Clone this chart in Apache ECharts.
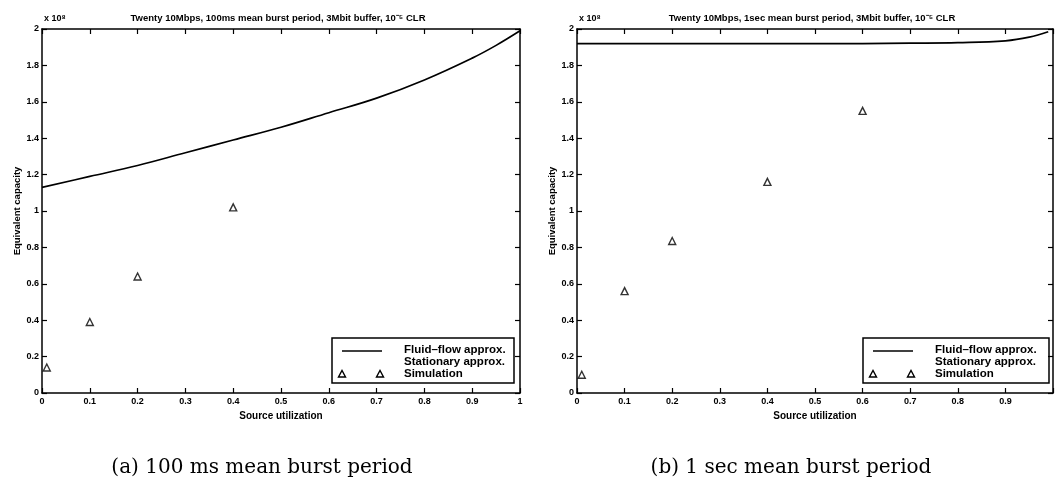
<!DOCTYPE html>
<html>
<head>
<meta charset="utf-8">
<script src="https://cdn.jsdelivr.net/npm/echarts@6/dist/echarts.min.js"></script>
<style>
  html, body { margin: 0; padding: 0; background: #fff; }
  #chart { width: 1059px; height: 493px; }
</style>
</head>
<body>
<div id="chart"></div>
<script>
// Source utilization sample points for the fluid-flow curves
const utilA = [0, 0.1, 0.2, 0.3, 0.4, 0.5, 0.6, 0.7, 0.8, 0.9, 0.95, 1.0];
const fluidA = [1.13, 1.19, 1.25, 1.32, 1.39, 1.46, 1.54, 1.62, 1.72, 1.84, 1.91, 1.99];
const utilB = [0, 0.1, 0.2, 0.3, 0.4, 0.5, 0.6, 0.7, 0.8, 0.9, 0.95, 0.99];
const fluidB = [1.92, 1.92, 1.92, 1.92, 1.92, 1.92, 1.92, 1.922, 1.925, 1.935, 1.955, 1.985];

// Simulation results
const simUtilA = [0.01, 0.1, 0.2, 0.4];
const simA = [0.14, 0.39, 0.64, 1.02];
const simUtilB = [0.01, 0.1, 0.2, 0.4, 0.6];
const simB = [0.10, 0.56, 0.835, 1.16, 1.55];

const titles = [
  'Twenty 10Mbps, 100ms mean burst period, 3Mbit buffer, 10\u207B\u2075 CLR',
  'Twenty 10Mbps, 1sec mean burst period, 3Mbit buffer, 10\u207B\u2075 CLR'
];
const captions = ['(a) 100 ms mean burst period', '(b) 1 sec mean burst period'];
const legendNames = ['Fluid\u2013flow approx.', 'Stationary approx.', 'Simulation'];

const FONT = '"Liberation Sans", Arial, sans-serif';
const SERIF = '"DejaVu Serif", "Liberation Serif", serif';
const grids = [
  { left: 42, top: 29, width: 478, height: 364 },
  { left: 577, top: 29, width: 476, height: 364 }
];
const captionCenters = [257, 786];

function fmt(v) {
  if (v === 0) return '0';
  if (Math.abs(v - Math.round(v)) < 1e-9) return String(Math.round(v));
  return v.toFixed(1);
}

function pair(xs, ys) { return xs.map((x, i) => [x, ys[i]]); }

const axisLineStyle = { color: '#000', width: 1.5 };
const tickStyle = { show: true, inside: true, length: 5, lineStyle: { color: '#000', width: 1.2 } };

const xAxis = [], yAxis = [];
grids.forEach((g, i) => {
  xAxis.push({
    type: 'value', gridIndex: i, min: 0, max: 1, interval: 0.1, position: 'bottom',
    axisLine: { show: true, onZero: false, lineStyle: axisLineStyle },
    axisTick: tickStyle,
    splitLine: { show: false },
    axisLabel: {
      color: '#000', fontFamily: FONT, fontWeight: 'bold', fontSize: 9, margin: 4,
      formatter: v => (i === 1 && v === 1) ? '' : fmt(v)
    },
    name: 'Source utilization', nameLocation: 'middle', nameGap: 17,
    nameTextStyle: { color: '#000', fontFamily: FONT, fontWeight: 'bold', fontSize: 10 }
  });
  xAxis.push({
    type: 'value', gridIndex: i, min: 0, max: 1, interval: 0.1, position: 'top',
    axisLine: { show: true, onZero: false, lineStyle: axisLineStyle },
    axisTick: tickStyle,
    axisLabel: { show: false }, splitLine: { show: false }
  });
  yAxis.push({
    type: 'value', gridIndex: i, min: 0, max: 2, interval: 0.2, position: 'left',
    axisLine: { show: true, onZero: false, lineStyle: axisLineStyle },
    axisTick: tickStyle,
    splitLine: { show: false },
    axisLabel: {
      color: '#000', fontFamily: FONT, fontWeight: 'bold', fontSize: 9, margin: 3,
      formatter: fmt
    },
    name: 'Equivalent capacity', nameLocation: 'middle', nameGap: 20,
    nameTextStyle: { color: '#000', fontFamily: FONT, fontWeight: 'bold', fontSize: 9.5 }
  });
  yAxis.push({
    type: 'value', gridIndex: i, min: 0, max: 2, interval: 0.2, position: 'right',
    axisLine: { show: true, onZero: false, lineStyle: axisLineStyle },
    axisTick: tickStyle,
    axisLabel: { show: false }, splitLine: { show: false }
  });
});

const series = [
  {
    name: legendNames[0], type: 'line', xAxisIndex: 0, yAxisIndex: 0,
    data: pair(utilA, fluidA), smooth: 0.4, showSymbol: false,
    lineStyle: { color: '#000', width: 1.7 }
  },
  {
    name: legendNames[2], type: 'scatter', xAxisIndex: 0, yAxisIndex: 0,
    data: pair(simUtilA, simA), symbol: 'triangle', symbolSize: 7,
    itemStyle: { color: '#fff', borderColor: '#000', borderWidth: 1.4 }
  },
  {
    name: legendNames[0], type: 'line', xAxisIndex: 2, yAxisIndex: 2,
    data: pair(utilB, fluidB), smooth: 0.4, showSymbol: false,
    lineStyle: { color: '#000', width: 1.7 }
  },
  {
    name: legendNames[2], type: 'scatter', xAxisIndex: 2, yAxisIndex: 2,
    data: pair(simUtilB, simB), symbol: 'triangle', symbolSize: 7,
    itemStyle: { color: '#fff', borderColor: '#000', borderWidth: 1.4 }
  }
];

// Legend boxes, anchored to the lower-right corner of each plot
const legendBoxes = [
  { right: 6, width: 182 },
  { right: 4, width: 186 }
];
const graphic = [];
grids.forEach((g, i) => {
  const lb = legendBoxes[i];
  const bx = g.left + g.width - lb.right - lb.width;
  const by = g.top + g.height - 55;
  const tri = (cx, cy) => ({
    type: 'polygon',
    shape: { points: [[cx - 3.5, cy + 3], [cx + 3.5, cy + 3], [cx, cy - 3.5]] },
    style: { fill: '#fff', stroke: '#000', lineWidth: 1.4 }
  });
  const label = (t, y) => ({
    type: 'text', left: bx + 72, top: by + y,
    style: { text: t, fill: '#000', font: 'bold 11.5px ' + FONT }
  });
  graphic.push({
    type: 'rect', shape: { x: bx, y: by, width: lb.width, height: 45 },
    style: { fill: '#fff', stroke: '#000', lineWidth: 1.5 }
  });
  graphic.push({
    type: 'line', shape: { x1: bx + 10, y1: by + 13, x2: bx + 50, y2: by + 13 },
    style: { stroke: '#000', lineWidth: 1.7 }
  });
  graphic.push(label(legendNames[0], 6));
  graphic.push(label(legendNames[1], 18));
  graphic.push(label(legendNames[2], 30));
  graphic.push(tri(bx + 10, by + 36));
  graphic.push(tri(bx + 48, by + 36));
  // exponent for the capacity axis
  graphic.push({
    type: 'text', left: g.left + 2, top: 14,
    style: { text: 'x 10\u2078', fill: '#000', font: 'bold 9px ' + FONT }
  });
});

const title = [];
grids.forEach((g, i) => {
  title.push({
    text: titles[i], left: g.left + g.width / 2 - 8, top: 8, textAlign: 'center',
    textStyle: { color: '#000', fontFamily: FONT, fontWeight: 'bold', fontSize: 9.5 }
  });
  title.push({
    text: captions[i], left: captionCenters[i], top: 453, textAlign: 'center',
    textStyle: { color: '#000', fontFamily: SERIF, fontWeight: 'normal', fontSize: 20 }
  });
});

const chart = echarts.init(document.getElementById('chart'), null, { renderer: 'canvas' });
chart.setOption({
  backgroundColor: '#fff',
  animation: false,
  title: title,
  grid: grids.map(g => Object.assign({ containLabel: false }, g)),
  xAxis: xAxis,
  yAxis: yAxis,
  series: series,
  graphic: graphic
});
</script>
</body>
</html>
